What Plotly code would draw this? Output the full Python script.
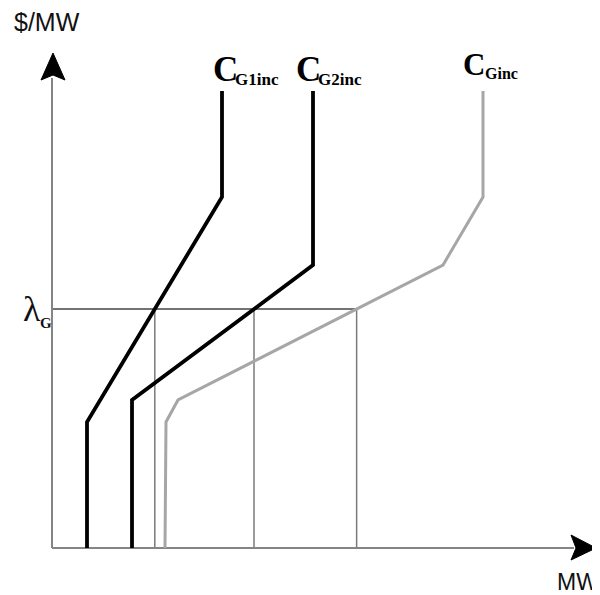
import numpy as np
import plotly.graph_objects as go

# Marginal cost curves (MW, $/MW), origin at axis crossing
g1_mw = [35, 35, 170, 170]
g1_cost = [0, 126, 351, 457]
g2_mw = [80, 80, 261, 261]
g2_cost = [0, 148, 283, 457]
g_mw = [113, 114, 126, 391, 431, 431]
g_cost = [0, 126, 148, 283, 351, 457]
lambda_g = 239

labels = ["G1inc", "G2inc", "Ginc"]

# intersections with lambda
def x_at(mw, cost, lam):
    return float(np.interp(lam, cost[1:], mw[1:]))

xs = [x_at(g1_mw, g1_cost, lambda_g), x_at(g2_mw, g2_cost, lambda_g), x_at(g_mw, g_cost, lambda_g)]

fig = go.Figure()

# drop lines
dx, dy = [], []
for x in xs:
    dx += [x, x, None]
    dy += [0, lambda_g, None]
fig.add_trace(go.Scatter(x=dx, y=dy, mode="lines", line=dict(color="#7a7a7a", width=1.5), hoverinfo="skip"))
# lambda line
fig.add_trace(go.Scatter(x=[0, max(xs)], y=[lambda_g, lambda_g], mode="lines", line=dict(color="#444444", width=1.5), hoverinfo="skip"))

# axes lines
fig.add_trace(go.Scatter(x=[0, 0], y=[0, 470], mode="lines", line=dict(color="#858585", width=2), hoverinfo="skip"))
fig.add_trace(go.Scatter(x=[0, 522], y=[0, 0], mode="lines", line=dict(color="#858585", width=2), hoverinfo="skip"))

fig.add_trace(go.Scatter(x=g_mw, y=g_cost, mode="lines", line=dict(color="#a6a6a6", width=3), hoverinfo="skip"))
fig.add_trace(go.Scatter(x=g1_mw, y=g1_cost, mode="lines", line=dict(color="#000000", width=3.8), hoverinfo="skip"))
fig.add_trace(go.Scatter(x=g2_mw, y=g2_cost, mode="lines", line=dict(color="#000000", width=3.8), hoverinfo="skip"))

shapes = [
    dict(type="path", path="M -11,468 L 1,495 L 13,468 L 1,473 Z", xref="x", yref="y",
         fillcolor="black", line=dict(color="black", width=1)),
    dict(type="path", path="M 519,13 L 544,0 L 519,-12 L 524,0 Z", xref="x", yref="y",
         fillcolor="black", line=dict(color="black", width=1)),
]

serif = "Liberation Serif, Times New Roman, serif"
sans = "Liberation Sans, Arial, sans-serif"
ann = []
ann.append(dict(x=-40, y=526, text="$/MW", showarrow=False, xanchor="left", yanchor="middle",
                font=dict(family=sans, size=25, color="#111")))
ann.append(dict(x=503, y=-34, text="MW", showarrow=False, xanchor="left", yanchor="middle",
                font=dict(family=sans, size=23, color="#111")))
ann.append(dict(x=-31, y=239, text="λ", showarrow=False, xanchor="left", yanchor="middle",
                font=dict(family=serif, size=36, color="#111")))
ann.append(dict(x=-14, y=225, text="<b>G</b>", showarrow=False, xanchor="left", yanchor="middle",
                font=dict(family=serif, size=15, color="#111")))

c_pos = [(159, 479), (242, 479), (409, 484)]
c_size = [35, 35, 31]
sub_size = [17, 17, 16]
sub_dx = [22, 22, 22]
sub_dy = [-10, -10, -9]
for (cx, cy), lab, cs, ss, sdx, sdy in zip(c_pos, labels, c_size, sub_size, sub_dx, sub_dy):
    ann.append(dict(x=cx, y=cy, text="<b>C</b>", showarrow=False, xanchor="left", yanchor="middle",
                    font=dict(family=serif, size=cs, color="#000")))
    ann.append(dict(x=cx + sdx, y=cy + sdy, text="<b>" + lab + "</b>", showarrow=False, xanchor="left",
                    yanchor="middle", font=dict(family=serif, size=ss, color="#000")))

# page body has an 8px margin; size the figure to the visible area
fig.update_layout(
    width=592, height=587, margin=dict(l=0, r=0, t=0, b=0),
    paper_bgcolor="white", plot_bgcolor="white", showlegend=False,
    xaxis=dict(range=[-44, 548], visible=False, fixedrange=True),
    yaxis=dict(range=[-47, 540], visible=False, fixedrange=True),
    shapes=shapes, annotations=ann,
)
fig.write_html("out.html")
